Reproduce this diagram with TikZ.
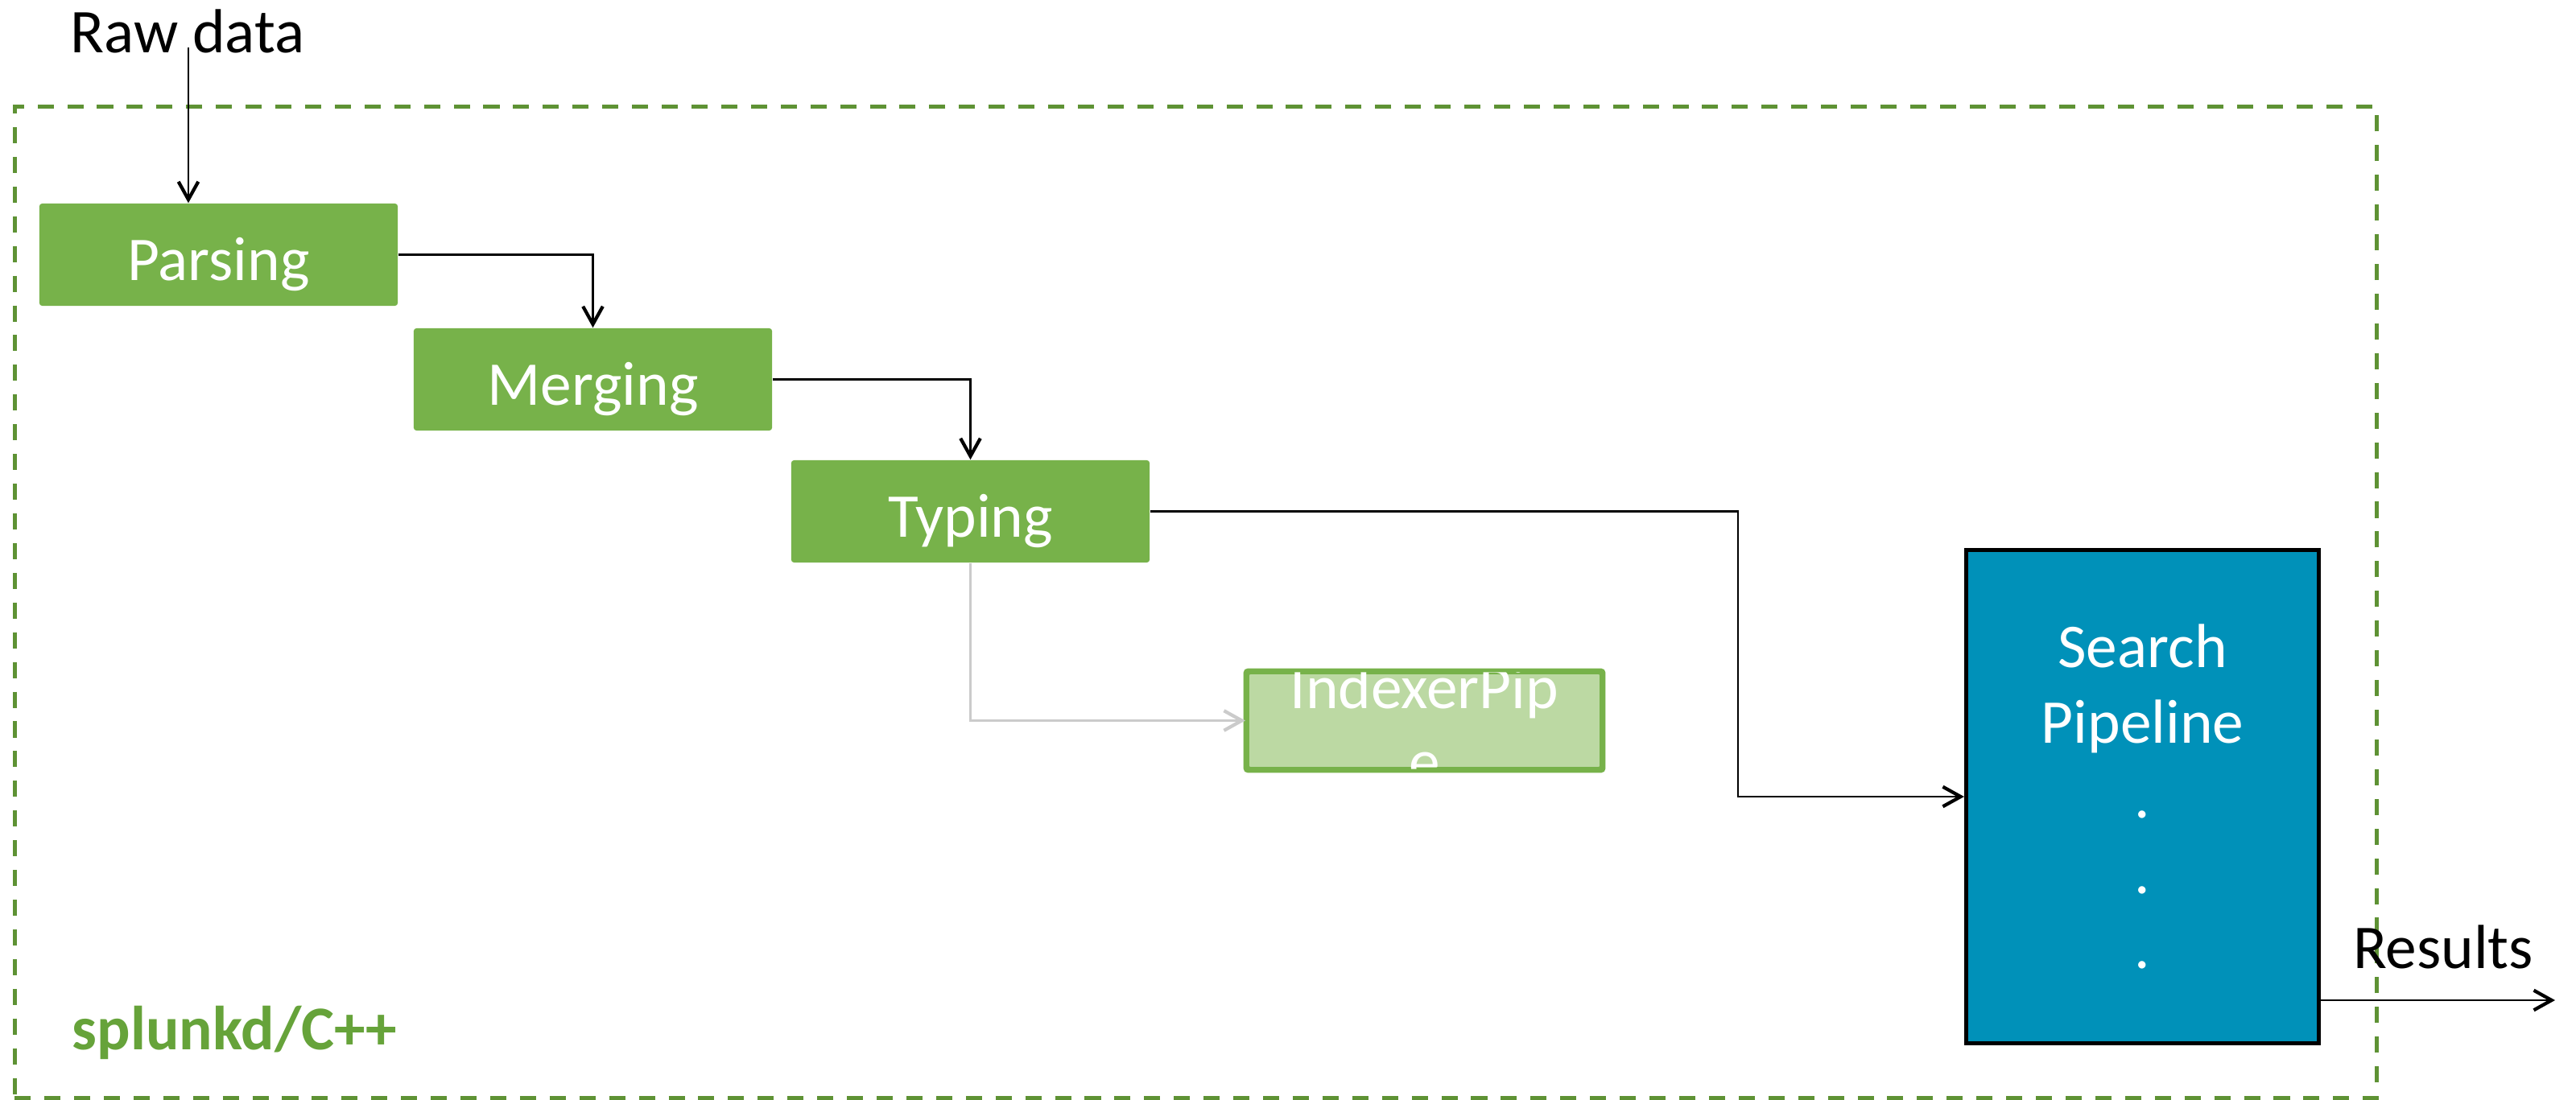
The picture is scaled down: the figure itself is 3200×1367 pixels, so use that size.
\documentclass[tikz,border=0pt]{standalone}
\usepackage{fontspec}
\setmainfont{Carlito}
\usetikzlibrary{arrows.meta}
\definecolor{boxgreen}{HTML}{77B24A}
\definecolor{lightgreen}{HTML}{BCD9A3}
\definecolor{framegreen}{HTML}{5E9234}
\definecolor{labelgreen}{HTML}{66A33A}
\definecolor{searchblue}{HTML}{0091B9}
\definecolor{arrowgray}{HTML}{CBCBCB}
\begin{document}
\begin{tikzpicture}[x=0.01cm,y=-0.01cm,
  every node/.style={font=\fontsize{22}{26}\selectfont, inner sep=0pt},
  stage/.style={fill=boxgreen, text=white, text height=18pt, text depth=0pt, minimum width=4.45cm, minimum height=1.27cm, rounded corners=1pt},
  idxbox/.style={fill=lightgreen, draw=boxgreen, line width=1.4pt, minimum width=4.4cm, minimum height=1.2cm, rounded corners=1pt},
  searchbox/.style={fill=searchblue, draw=black, line width=1.4pt, text=white, align=center, font=\fontsize{22}{26.6}\selectfont, minimum width=4.38cm, minimum height=6.13cm},
  container/.style={draw=framegreen, line width=1.4pt, dash pattern=on 5.7pt off 4.8pt, minimum width=29.33cm, minimum height=12.31cm},
  conn/.style={draw=black, line width=0.6pt, -{Straight Barb[length=6.3pt,width=7pt,line width=1.2pt]}},
  grayconn/.style={draw=arrowgray, line width=0.6pt, -{Straight Barb[length=6.3pt,width=7pt,line width=1.2pt]}}
]
\useasboundingbox (0,0) rectangle (3200,1367);

% container frame
\node[container] (frame) at (1485.5,748.5) {};

% texts
\node[anchor=base] (raw) at (233,66) {Raw data};
\node[anchor=base west, font=\fontsize{22}{26}\selectfont\bfseries, text=labelgreen] (lang) at (89,1304) {splunkd/C++};
\node[anchor=base] (results) at (3035,1203) {Results};

% stages
\node[stage] (parsing) at (271.5,316.5) {Parsing};
\node[stage] (merging) at (736.5,471.5) {Merging};
\node[stage] (typing) at (1205.5,635.5) {Typing};

% indexer pipe (text overflows and is clipped)
\node[idxbox] (indexer) at (1769.5,895.5) {};
\begin{scope}
  \clip (1547,831) rectangle (1992,959);
  \node[text=white, align=center] (idxtext) at (1769.5,900) {IndexerPip\\e};
\end{scope}
\draw[boxgreen, line width=1.4pt, rounded corners=1pt] (1547,833) rectangle (1992,958);

% search pipeline
\node[searchbox] (search) at (2661.5,990) {Search\\Pipeline\\.\\.\\.};

% connectors
\coordinate (rawpt) at (234,59);
\draw[conn] (rawpt) -- (rawpt |- parsing.north);
\draw[conn] (parsing.east) -| (merging.north);
\draw[conn] (merging.east) -| (typing.north);
\draw[conn] (typing.east) -- ++(730,0) |- (search.west);
\draw[grayconn] (typing.south) |- (indexer.west);
\coordinate (resend) at (3174,1243);
\draw[conn] (resend -| search.east) -- (resend);
\end{tikzpicture}
\end{document}
